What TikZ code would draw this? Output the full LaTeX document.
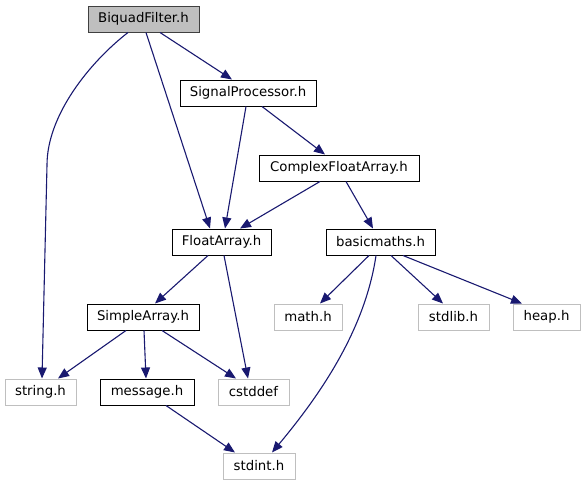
\documentclass[tikz,border=0pt]{standalone}
\usepackage{fontspec}
\setmainfont{DejaVu Sans}
\usetikzlibrary{arrows.meta}
\definecolor{edgeblue}{HTML}{191970}
\definecolor{extgray}{HTML}{BFBFBF}
\definecolor{rootfill}{HTML}{BFBFBF}
\definecolor{rootline}{HTML}{404040}
\tikzset{
  hdr/.style={draw=black, line width=1pt, minimum height=26pt, inner sep=0pt,
    font=\fontsize{13.3}{16}\selectfont},
  ext/.style={hdr, draw=extgray},
  root/.style={hdr, draw=rootline, fill=rootfill},
  dep/.style={draw=edgeblue, line width=1.1pt,
    -{Triangle[length=11pt,width=9pt,fill=edgeblue]}},
}
\begin{document}
\begin{tikzpicture}[x=1pt,y=-1pt]
\useasboundingbox (0,0) rectangle (586,485);
\node[root, minimum width=111pt] (bq) at (143.5,19) {BiquadFilter.h};
\node[hdr, minimum width=136pt] (sp) at (248,93) {SignalProcessor.h};
\node[hdr, minimum width=160pt] (cfa) at (339,168) {ComplexFloatArray.h};
\node[hdr, minimum width=99pt] (fa) at (221.5,242) {FloatArray.h};
\node[hdr, minimum width=109pt] (bm) at (380.5,242) {basicmaths.h};
\node[hdr, minimum width=112pt] (sa) at (143,317) {SimpleArray.h};
\node[ext, minimum width=68pt] (math) at (308,317) {math.h};
\node[ext, minimum width=71pt] (stdlib) at (453.5,317) {stdlib.h};
\node[ext, minimum width=67pt] (heap) at (546.5,317) {heap.h};
\node[ext, minimum width=71pt] (string) at (40.5,392) {string.h};
\node[hdr, minimum width=94pt] (msg) at (147,392) {message.h};
\node[ext, minimum width=71pt] (cstddef) at (253.5,392) {cstddef};
\node[ext, minimum width=72pt] (stdint) at (259,466) {stdint.h};

\draw[dep] ([xshift=-15.5pt]bq.south) .. controls (90,62) and (47,115) .. (47,165) -- ([xshift=1.5pt]string.north);
\draw[dep] ([xshift=2.5pt]bq.south) -- ([xshift=-11.5pt]fa.north);
\draw[dep] ([xshift=16.5pt]bq.south) -- ([xshift=-16pt]sp.north);
\draw[dep] ([xshift=-2pt]sp.south) -- ([xshift=3.5pt]fa.north);
\draw[dep] ([xshift=14pt]sp.south) -- ([xshift=-14pt]cfa.north);
\draw[dep] ([xshift=-19pt]cfa.south) -- ([xshift=18.5pt]fa.north);
\draw[dep] ([xshift=7pt]cfa.south) -- ([xshift=-7.5pt]bm.north);
\draw[dep] ([xshift=-13.5pt]fa.south) -- ([xshift=12pt]sa.north);
\draw[dep] ([xshift=2.5pt]fa.south) -- ([xshift=-5.5pt]cstddef.north);
\draw[dep] ([xshift=-11.5pt]bm.south) -- ([xshift=12pt]math.north);
\draw[dep] ([xshift=-4.5pt]bm.south) .. controls (365,330) and (320,395) .. ([xshift=13pt]stdint.north);
\draw[dep] ([xshift=10.5pt]bm.south) -- ([xshift=-10.5pt]stdlib.north);
\draw[dep] ([xshift=22.5pt]bm.south) -- ([xshift=-24.5pt]heap.north);
\draw[dep] ([xshift=-17pt]sa.south) -- ([xshift=17.5pt]string.north);
\draw[dep] ([xshift=1pt]sa.south) -- ([xshift=-1pt]msg.north);
\draw[dep] ([xshift=19pt]sa.south) -- ([xshift=-17.5pt]cstddef.north);
\draw[dep] ([xshift=19pt]msg.south) -- ([xshift=-24pt]stdint.north);
\end{tikzpicture}
\end{document}
